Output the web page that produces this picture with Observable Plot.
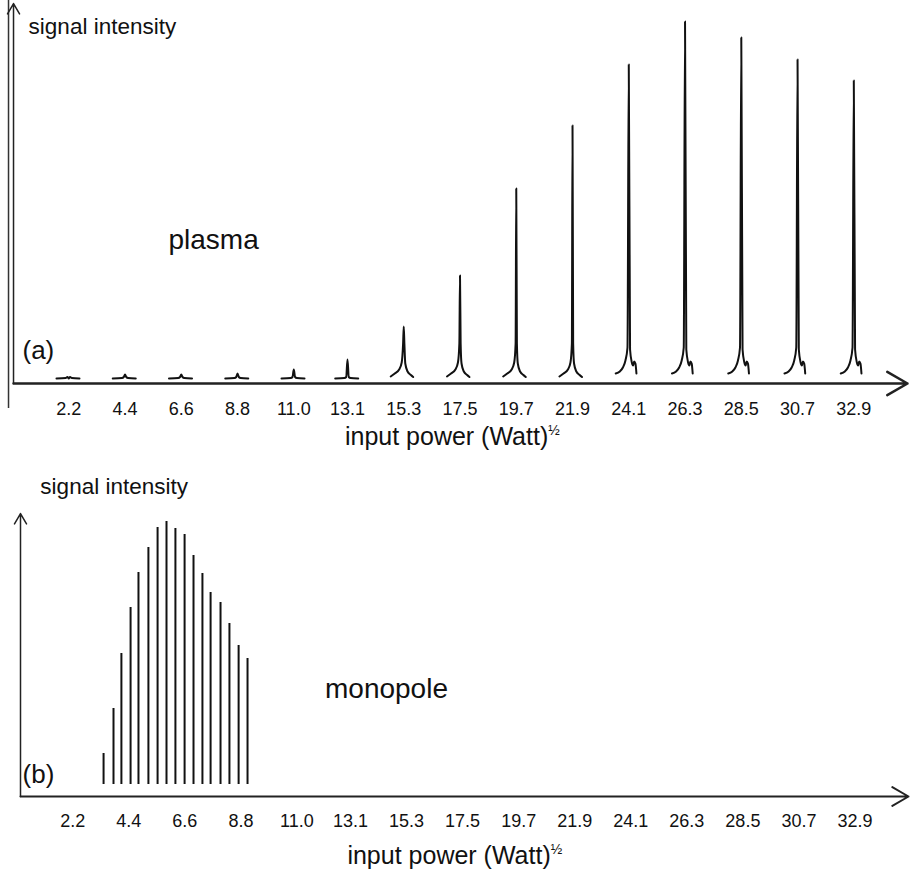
<!DOCTYPE html>
<html><head><meta charset="utf-8">
<script src="https://cdn.jsdelivr.net/npm/d3@7"></script>
<script src="https://cdn.jsdelivr.net/npm/@observablehq/plot@0.6"></script>
<style>body{margin:0;background:#fff} svg{display:block}</style>
</head><body><div id="chart"></div>
<script>
// ---- data ----
const tickValues = [2.2, 4.4, 6.6, 8.8, 11.0, 13.1, 15.3, 17.5, 19.7, 21.9, 24.1, 26.3, 28.5, 30.7, 32.9];
// (a) plasma: peak positions (input power) and peak heights (a.u.)
const plasmaPower = [2.2, 4.4, 6.6, 8.8, 11.0, 13.1, 15.3, 17.5, 19.7, 21.9, 24.1, 26.3, 28.5, 30.7, 32.9];
const plasmaHeight = [5, 9, 9, 10, 14, 24, 57, 108, 195, 258, 319, 362, 346, 324, 303];
const plasmaShape = ["small","small","small","small","small","small","sym","sym","sym","sym","shoulder","shoulder","shoulder","shoulder","shoulder"];
// peak outline templates (offset in power units, intensity; null = peak top)
const smallDx = [-0.48, -0.12, -0.05, 0, 0.05, 0.12, 0.42];
const smallY  = [5, 5.4, 6.5, null, 6.5, 5.4, 5];
const symDx = [-0.51, -0.35, -0.18, -0.08, -0.025, 0, 0.025, 0.06, 0.15, 0.28, 0.37];
const symY  = [7, 10, 14, 21, 40, null, 40, 20, 12, 8.5, 6.5];
const shoulderDx = [-0.51, -0.35, -0.23, -0.13, -0.05, 0, 0.05, 0.12, 0.17, 0.21, 0.26, 0.30];
const shoulderY  = [10, 12, 16, 23, 36, null, 34, 21, 18, 22, 20, 10];
// (b) monopole: line positions and line tops (a.u.)
const monopolePower = [3.41, 3.80, 4.11, 4.47, 4.78, 5.17, 5.53, 5.88, 6.23, 6.59, 6.94, 7.29, 7.61, 8.00, 8.35, 8.71, 9.06];
const monopoleTop = [43, 88, 143, 189, 224, 249, 269, 275, 268, 262, 241, 223, 204, 194, 173, 151, 138];
const monopoleBase = 12;

const axisLabel = "input power (Watt)½";
const templates = {small: [smallDx, smallY], sym: [symDx, symY], shoulder: [shoulderDx, shoulderY]};
const peakPoints = plasmaPower.flatMap((p, i) => {
  const [dx, ys] = templates[plasmaShape[i]];
  return dx.map((d, j) => ({peak: i, x: p + d, y: ys[j] === null ? plasmaHeight[i] : ys[j]}));
});
const monopole = monopolePower.map((p, i) => ({x: p, top: monopoleTop[i]}));

const font = "'Liberation Sans', Arial, sans-serif";
const ink = "#111";

const chartA = Plot.plot({
  width: 911, height: 460,
  marginLeft: 12, marginRight: 4, marginTop: 0, marginBottom: 77,
  x: {domain: [0, 35], axis: null},
  y: {domain: [0, 383], axis: null},
  style: {fontFamily: font, color: ink, background: "#fff", overflow: "visible"},
  marks: [
    Plot.ruleX([0.04], {y1: -25, y2: 383, dx: -5, stroke: "#333", strokeWidth: 1.5}),
    Plot.arrow([0], {x1: 0.04, y1: 0, x2: 0.04, y2: 380, stroke: "#222", strokeWidth: 1.5, headLength: 12}),
    Plot.arrow([0], {x1: 0.04, y1: 0, x2: 35, y2: 0, stroke: "#222", strokeWidth: 2.5, headLength: 14}),
    Plot.line(peakPoints, {x: "x", y: "y", z: "peak", curve: "monotone-x", stroke: ink, strokeWidth: 2}),
    Plot.axisX(tickValues, {label: null, tickSize: 0, tickPadding: 19, fontSize: 18, tickFormat: d => d.toFixed(1), fill: ink}),
    Plot.text(["signal intensity"], {x: 0.63, y: 350, text: d => d, textAnchor: "start", lineAnchor: "bottom", fontSize: 22.5, fill: ink}),
    Plot.text(["plasma"], {x: 6.1, y: 135, text: d => d, textAnchor: "start", lineAnchor: "bottom", fontSize: 28, fill: ink}),
    Plot.text(["(a)"], {x: 0.39, y: 25, text: d => d, textAnchor: "start", lineAnchor: "bottom", fontSize: 26, fill: ink}),
    Plot.text([axisLabel], {x: 13.0, y: -61, text: d => d, textAnchor: "start", lineAnchor: "bottom", fontSize: 25, fill: ink})
  ]
});

const chartB = Plot.plot({
  width: 911, height: 413,
  marginLeft: 20, marginRight: 3, marginTop: 0, marginBottom: 77,
  x: {domain: [0.15, 35], axis: null},
  y: {domain: [0, 336], axis: null},
  style: {fontFamily: font, color: ink, background: "#fff", overflow: "visible"},
  marks: [
    Plot.arrow([0], {x1: 0.15, y1: 0, x2: 0.15, y2: 283, stroke: "#222", strokeWidth: 1.5, headLength: 12}),
    Plot.arrow([0], {x1: 0.15, y1: 0, x2: 35, y2: 0, stroke: "#222", strokeWidth: 2, headLength: 14}),
    Plot.ruleX(monopole, {x: "x", y1: monopoleBase, y2: "top", stroke: ink, strokeWidth: 2}),
    Plot.axisX(tickValues, {label: null, tickSize: 0, tickPadding: 18, fontSize: 18, tickFormat: d => d.toFixed(1), fill: ink}),
    Plot.text(["signal intensity"], {x: 0.93, y: 303, text: d => d, textAnchor: "start", lineAnchor: "bottom", fontSize: 22.5, fill: ink}),
    Plot.text(["monopole"], {x: 12.1, y: 99, text: d => d, textAnchor: "start", lineAnchor: "bottom", fontSize: 28, fill: ink}),
    Plot.text(["(b)"], {x: 0.23, y: 14, text: d => d, textAnchor: "start", lineAnchor: "bottom", fontSize: 26, fill: ink}),
    Plot.text([axisLabel], {x: 12.98, y: -67, text: d => d, textAnchor: "start", lineAnchor: "bottom", fontSize: 25, fill: ink})
  ]
});

for (const svg of [chartA, chartB]) {
  d3.select(svg).selectAll("text").filter(function() { return this.textContent === axisLabel; }).each(function() {
    const t = d3.select(this);
    t.text(null);
    t.append("tspan").text("input power (Watt)");
    t.append("tspan").attr("font-size", "0.55em").attr("dy", "-0.7em").text("½");
  });
  document.getElementById("chart").appendChild(svg);
}
</script>
</body></html>
